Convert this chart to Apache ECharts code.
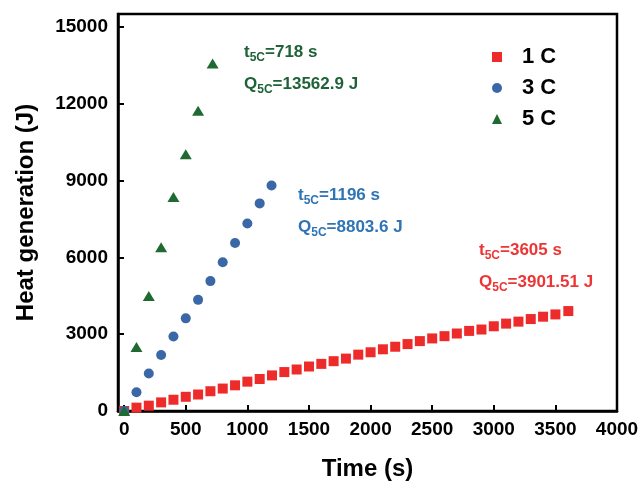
<!DOCTYPE html>
<html>
<head>
<meta charset="utf-8">
<script src="https://cdn.jsdelivr.net/npm/echarts@6/dist/echarts.min.js"></script>
<style>html,body{margin:0;padding:0;background:#fff}#c{width:643px;height:486px}</style>
</head>
<body>
<div id="c"></div>
<script>
var t1C = [0,100,200,300,400,500,600,700,800,900,1000,1100,1200,1300,1400,1500,1600,1700,1800,1900,2000,2100,2200,2300,2400,2500,2600,2700,2800,2900,3000,3100,3200,3300,3400,3500,3605];
var q1C = [0,131,208,336,440,555,644,772,876,1003,1146,1250,1390,1520,1621,1737,1840,1945,2046,2200,2293,2409,2509,2613,2729,2833,2922,3026,3127,3181,3308,3412,3489,3590,3682,3771,3901.51];
var t3C = [0,100,200,300,400,500,600,700,800,900,1000,1100,1196];
var q3C = [0,734,1467,2189,2910,3617,4339,5072,5805,6562,7322,8106,8803.6];
var t5C = [0,100,200,300,400,500,600,718];
var q5C = [0,2497,4493,6396,8353,10024,11723,13562.9];
var xTicks = [0,500,1000,1500,2000,2500,3000,3500,4000];
var yTicks = [0,3000,6000,9000,12000,15000];
var seriesNames = ['1 C','3 C','5 C'];

function pairs(a,b){return a.map(function(v,i){return [v,b[i]];});}

var FONT = 'Liberation Sans, Arial, sans-serif';
var RED = '#ee2b2b', BLUE = '#3a68a6', GREEN = '#1e6a30';

function ann(x,y,color,tv,qv){
  var rich = {
    m:{fontSize:17,fontWeight:'bold',fontFamily:FONT,fill:color,color:color},
    s:{fontSize:12,fontWeight:'bold',fontFamily:FONT,fill:color,color:color,padding:[10,0,0,0]}
  };
  return [
    {type:'text',left:x,top:y-8,style:{text:'{m|t}{s|5C}{m|='+tv+'}',rich:rich,fill:color}},
    {type:'text',left:x,top:y+24,style:{text:'{m|Q}{s|5C}{m|='+qv+'}',rich:rich,fill:color}}
  ];
}
function plain(v){return String(v);}

var chart = echarts.init(document.getElementById('c'),null,{renderer:'canvas'});
chart.setOption({
  animation:false,
  backgroundColor:'#fff',
  grid:{left:118,right:26,top:14,bottom:71,show:true,borderColor:'#000',borderWidth:2.5,backgroundColor:'transparent'},
  xAxis:{type:'value',min:-50,max:4000,
    name:'Time (s)',nameLocation:'middle',nameGap:46,
    nameTextStyle:{fontSize:24,fontWeight:'bold',fontFamily:FONT,color:'#000'},
    axisLine:{show:true,onZero:false,lineStyle:{color:'#000',width:2.5}},
    axisTick:{show:true,inside:true,length:6,lineStyle:{color:'#000',width:2},customValues:xTicks},
    axisLabel:{fontSize:19,fontWeight:'bold',fontFamily:FONT,color:'#000',margin:9,customValues:xTicks,formatter:plain},
    splitLine:{show:false}},
  yAxis:{type:'value',min:0,max:15500,
    name:'Heat generation (J)',nameLocation:'middle',nameGap:80,
    nameTextStyle:{fontSize:24,fontWeight:'bold',fontFamily:FONT,color:'#000'},
    axisLine:{show:true,onZero:false,lineStyle:{color:'#000',width:2.5}},
    axisTick:{show:true,inside:true,length:6,lineStyle:{color:'#000',width:2},customValues:yTicks},
    axisLabel:{fontSize:19,fontWeight:'bold',fontFamily:FONT,color:'#000',margin:10,customValues:yTicks,formatter:plain},
    splitLine:{show:false}},
  legend:{orient:'vertical',left:487,top:41,itemWidth:10,itemHeight:10,itemGap:9,
    data:seriesNames,
    textStyle:{fontSize:22,fontWeight:'bold',fontFamily:FONT,color:'#000',lineHeight:22,padding:[0,0,0,15]}},
  series:[
    {name:seriesNames[0],type:'scatter',symbol:'rect',symbolSize:10,itemStyle:{color:RED,opacity:1},data:pairs(t1C,q1C),z:2},
    {name:seriesNames[1],type:'scatter',symbol:'circle',symbolSize:10,itemStyle:{color:BLUE,opacity:1},data:pairs(t3C,q3C),z:3},
    {name:seriesNames[2],type:'scatter',symbol:'triangle',symbolSize:[12,10],itemStyle:{color:GREEN,opacity:1},data:pairs(t5C,q5C),z:4}
  ],
  graphic:[].concat(
    ann(244,52,'#1f6238','718 s','13562.9 J'),
    ann(298,195,'#2f74b5','1196 s','8803.6 J'),
    ann(479,250,'#ee3535','3605 s','3901.51 J'))
});
</script>
</body>
</html>
